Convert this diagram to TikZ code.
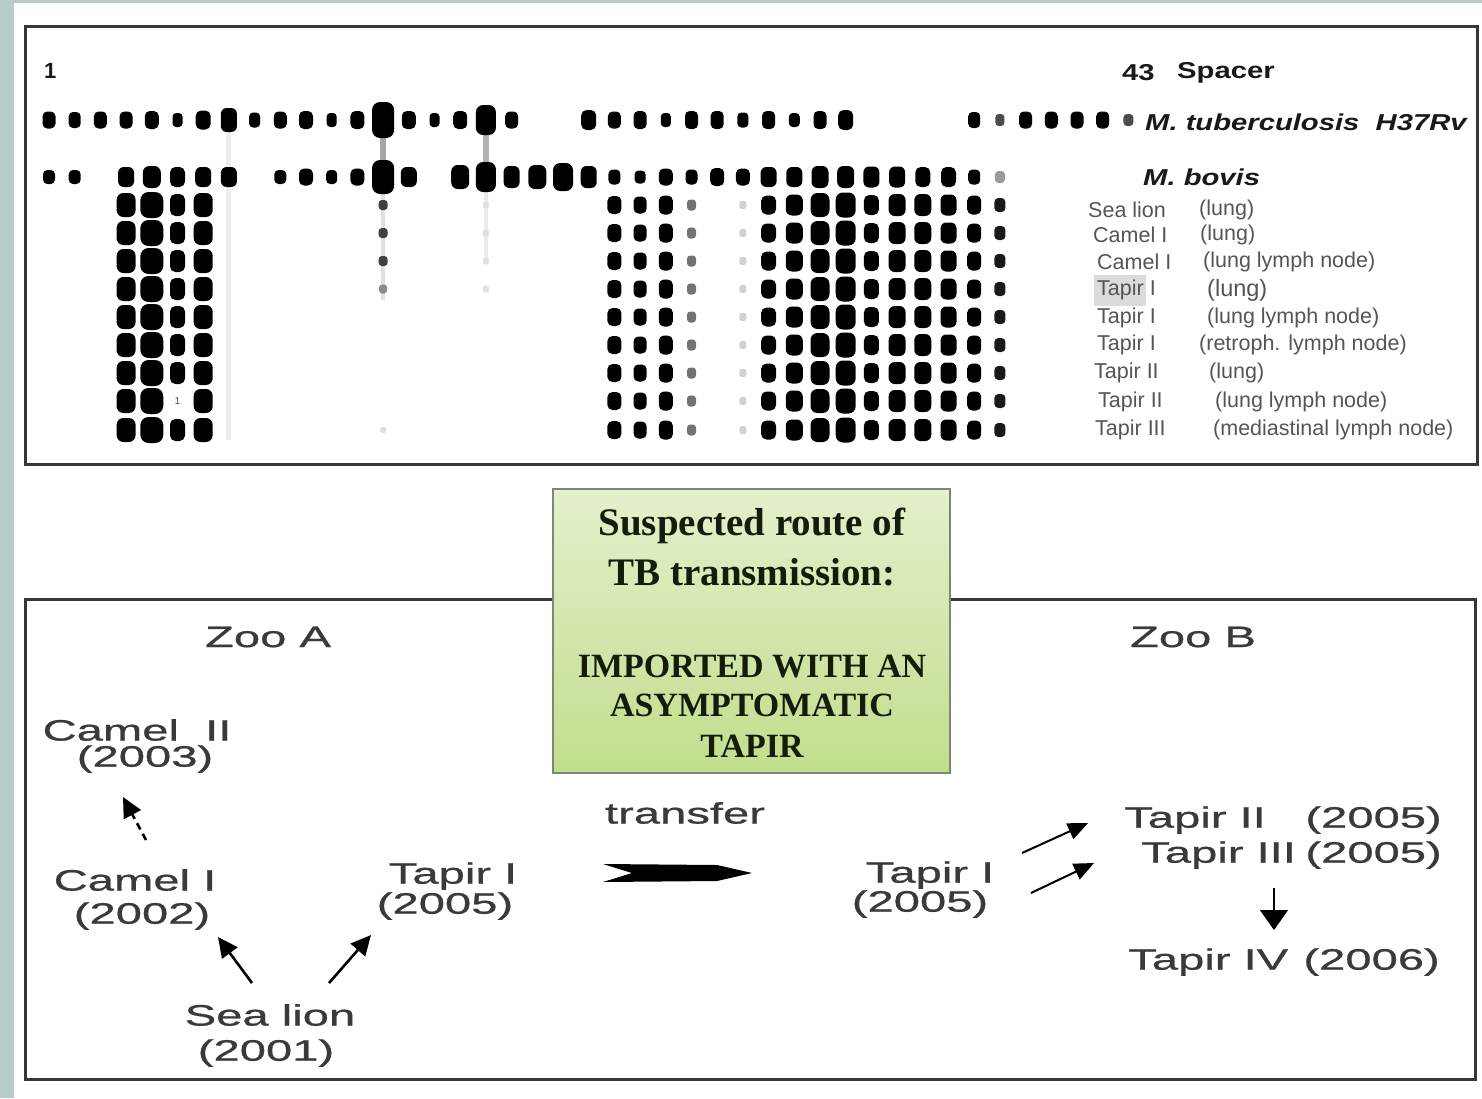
\documentclass[tikz,border=0pt]{standalone}
\usepackage{fontspec}
\setmainfont{Liberation Sans}
\newfontfamily\widefont[FakeStretch=1.6,FakeBold=0.8]{Liberation Sans}
\newfontfamily\hdrfont[FakeStretch=1.27]{Liberation Sans}
\newfontfamily\rmfontx{Liberation Serif}
\usetikzlibrary{arrows.meta,calc}
\definecolor{bgstrip}{RGB}{185,204,204}
\definecolor{framec}{RGB}{55,55,55}
\definecolor{lblc}{RGB}{58,58,58}
\definecolor{smpc}{RGB}{85,85,85}
\definecolor{gtop}{RGB}{228,240,204}
\definecolor{gbot}{RGB}{193,222,140}
\definecolor{gframe}{RGB}{125,135,115}
\definecolor{gtext}{RGB}{20,28,12}
\definecolor{hdrc}{RGB}{25,25,25}
\newcommand{\blot}[5]{%
  \pgfmathsetmacro{\bcx}{49+(#1-1)*25.7}%
  \pgfmathsetmacro{\brr}{0.36*min(#3,#4)}%
  \fill[#5,rounded corners=\brr pt] ({\bcx-#3/2},{#2-#4/2}) rectangle ({\bcx+#3/2},{#2+#4/2});}
\newcommand{\smear}[5]{%
  \pgfmathsetmacro{\bcx}{49+(#1-1)*25.7}%
  \fill[#5] ({\bcx-#4/2},#2) rectangle ({\bcx+#4/2},#3);}
\tikzset{
  lbl/.style={font=\widefont\fontsize{29.5}{33}\selectfont, text=lblc, inner sep=0pt},
  smp/.style={font=\fontsize{21.5}{24}\selectfont, text=smpc, anchor=west, inner sep=0pt},
  hdr/.style={font=\hdrfont\bfseries\fontsize{23}{26}\selectfont, text=hdrc, anchor=west, inner sep=0pt},
  hdri/.style={font=\hdrfont\bfseries\itshape\fontsize{23}{26}\selectfont, text=hdrc, anchor=west, inner sep=0pt},
  frame/.style={draw=framec, line width=3pt},
  gbox/.style={draw=gframe, line width=2pt, top color=gtop, bottom color=gbot, inner sep=0pt},
  gline/.style={font=\rmfontx\bfseries\fontsize{39}{44}\selectfont, text=gtext, inner sep=0pt, anchor=base},
  gcaps/.style={font=\rmfontx\bfseries\fontsize{34}{38}\selectfont, text=gtext, inner sep=0pt, anchor=base},
  arr/.style={-{Triangle[length=20pt,width=19pt]}, line width=2.6pt, draw=black},
  arrs/.style={-{Triangle[length=20pt,width=17pt]}, line width=2pt, draw=black},
  arrd/.style={-{Triangle[length=20pt,width=28pt]}, line width=1.5pt, draw=black},
}
\begin{document}
\begin{tikzpicture}[x=1pt,y=-1pt]
\useasboundingbox (0,0) rectangle (1482,1098);
\fill[white] (0,0) rectangle (1482,1098);
\fill[bgstrip] (0,0) rectangle (14,1098);
\fill[bgstrip] (0,0) rectangle (1482,3);

% ---------- top panel ----------
\draw[frame] (25,26) rectangle (1477,464);

% smears
\smear{8}{130}{440}{5}{black!7}
\smear{14}{132}{168}{6}{black!35}
\smear{14}{188}{300}{4}{black!12}
\smear{18}{132}{168}{6}{black!30}
\smear{18}{188}{260}{4}{black!8}

% H37Rv row
\foreach \s/\w/\h/\c in {1/13/17/black,2/12/16/black,3/13/17/black,4/13/17/black,5/14/18/black,6/10/14/black,7/15/19/black,8/16/24/black,9/11/15/black,10/13/17/black,11/14/18/black,12/10/14/black,13/14/18/black,14/22/36/black,15/14/18/black,16/10/14/black,17/14/18/black,18/20/30/black,19/13/17/black,22/15/20/black,23/13/17/black,24/13/18/black,25/10/14/black,26/13/18/black,27/13/18/black,28/11/15/black,29/13/18/black,30/11/14/black,31/13/18/black,32/15/20/black,37/12/16/black,38/9/12/black!70,39/13/17/black,40/13/17/black,41/13/17/black,42/13/17/black,43/10/12/black!70}
  {\blot{\s}{120}{\w}{\h}{\c}}

% M. bovis reference row
\foreach \s/\w/\h/\c in {1/12/14/black,2/12/14/black,4/16/20/black,5/18/22/black,6/15/20/black,7/16/20/black,8/16/20/black,10/12/14/black,11/14/17/black,12/11/14/black,13/14/17/black,14/22/34/black,15/16/20/black,17/18/24/black,18/20/30/black,19/16/22/black,20/18/24/black,21/20/28/black,22/16/22/black,23/12/15/black,24/11/13/black,25/14/17/black,26/12/15/black,27/14/18/black,28/14/17/black,29/16/20/black,30/16/20/black,31/17/22/black,32/17/22/black,33/16/21/black,34/16/21/black,35/15/20/black,36/15/20/black,37/12/15/black,38/10/12/black!40}
  {\blot{\s}{177}{\w}{\h}{\c}}

% sample rows
\foreach \yy in {205,233,261,289,317,345,373,401,430}{
  \foreach \s/\w/\h/\c in {4/19/24/black,5/23/26/black,7/19/24/black,23/14/18/black,24/13/17/black,25/14/19/black,26/9/11/black!55,28/7/8/black!18,29/15/19/black,30/17/21/black,31/19/24/black,32/20/25/black,33/15/20/black,34/17/22/black,35/17/22/black,36/16/21/black,37/14/19/black,38/11/14/black!90}
    {\blot{\s}{\yy}{\w}{\h}{\c}}
}
\foreach \yy in {205,233,261,289,317,345,373,430}{\blot{6}{\yy}{15}{22}{black}}
\node[font=\fontsize{10}{11}\selectfont, text=black!70, inner sep=0pt] (one) at (177.5,401) {1};
\foreach \yy in {205,233,261}{\blot{14}{\yy}{9}{10}{black!75}}
\blot{14}{289}{8}{9}{black!45}
\blot{14}{430}{6}{6}{black!12}
\foreach \yy in {205,233,261,289}{\blot{18}{\yy}{6}{7}{black!12}}

% headers
\node[font=\bfseries\fontsize{22}{24}\selectfont, text=hdrc, anchor=west, inner sep=0pt] (n1) at (44,71) {1};
\node[hdr] (n43) at (1122,73) {43};
\node[hdr] (spacer) at (1177,73) {Spacer};
\node[hdri] (mtb) at (1145,122) {M. tuberculosis\ \ H37Rv};
\node[hdri] (mbov) at (1143,177) {M. bovis};

% sample labels
\fill[black!14] (1094,275) rectangle (1146,306);
\node[smp] (l1a) at (1088,210) {Sea lion};
\node[smp] (l1b) at (1199,210) {(lung)};
\node[smp] (l2a) at (1093,235) {Camel I};
\node[smp] (l2b) at (1200,235) {(lung)};
\node[smp] (l3a) at (1097,262) {Camel I};
\node[smp] (l3b) at (1203,262) {(lung lymph node)};
\node[smp] (l4a) at (1097,290) {Tapir I};
\node[smp, font=\fontsize{23.5}{26}\selectfont] (l4b) at (1207,290) {(lung)};
\node[smp] (l5a) at (1097,318) {Tapir I};
\node[smp] (l5b) at (1207,318) {(lung lymph node)};
\node[smp] (l6a) at (1097,345) {Tapir I};
\node[smp] (l6b) at (1199,345) {(retroph. lymph node)};
\node[smp] (l7a) at (1094,373) {Tapir II};
\node[smp] (l7b) at (1209,373) {(lung)};
\node[smp] (l8a) at (1098,402) {Tapir II};
\node[smp] (l8b) at (1215,402) {(lung lymph node)};
\node[smp] (l9a) at (1095,430) {Tapir III};
\node[smp] (l9b) at (1213,430) {(mediastinal lymph node)};

% ---------- bottom panel ----------
\draw[frame] (25,599) rectangle (1475,1079);
\node[gbox, minimum width=397pt, minimum height=284pt] (route) at (751.5,631) {};
\node[gline] (r1) at (752,535) {Suspected route of};
\node[gline] (r2) at (752,585) {TB transmission:};
\node[gcaps] (r3) at (752,677) {IMPORTED WITH AN};
\node[gcaps] (r4) at (752,716) {ASYMPTOMATIC};
\node[gcaps] (r5) at (752,757) {TAPIR};

\node[lbl] (zooA) at (268,637) {Zoo A};
\node[lbl] (zooB) at (1193,637) {Zoo B};
\node[lbl] (camel2) at (137,730) {Camel\ \ II};
\node[lbl] (camel2y) at (145,759) {(2003)};
\node[lbl] (camel1) at (135,880) {Camel I};
\node[lbl] (camel1y) at (142,916) {(2002)};
\node[lbl] (tapirA) at (453,876) {Tapir I};
\node[lbl] (tapirAy) at (445,906) {(2005)};
\node[lbl] (sealion) at (270,1015) {Sea lion};
\node[lbl] (sealiony) at (266,1053) {(2001)};
\node[lbl] (transfer) at (685,813) {transfer};
\node[lbl] (tapirB) at (930,875) {Tapir I};
\node[lbl] (tapirBy) at (920,904) {(2005)};
\node[lbl, anchor=west] (tapir2) at (1124,820) {Tapir II};
\node[lbl, anchor=east] (tapir2y) at (1442,820) {(2005)};
\node[lbl, anchor=west] (tapir3) at (1141,855) {Tapir III};
\node[lbl, anchor=east] (tapir3y) at (1442,855) {(2005)};
\node[lbl, anchor=west] (tapir4) at (1128,962) {Tapir IV};
\node[lbl, anchor=east] (tapir4y) at (1440,962) {(2006)};

% arrows
\draw[arr, dash pattern=on 7pt off 5pt] ($(camel1)+(11,-40)$) -- ($(camel2y)+(-22,38)$);
\draw[arr] ($(sealion)+(-18,-32)$) -- ($(camel1y)+(76,21)$);
\draw[arr] ($(sealion)+(59,-32)$) -- ($(tapirAy)+(-74,29)$);
\draw[arrs] ($(tapirB)+(92,-22)$) -- ($(tapir2.west)+(-36,3)$);
\draw[arrs] ($(tapirBy)+(111,-11)$) -- ($(tapir3.west)+(-47,8)$);
\draw[arrd] ($(tapir3.west)+(133,33)$) -- ($(tapir4.west)+(146,-32)$);

% transfer arrow
\fill[black] ($(transfer)+(-82,51)$) -- ($(transfer)+(32,52)$) -- ($(transfer)+(67,60)$) -- ($(transfer)+(32,68)$) -- ($(transfer)+(-82,69)$) -- ($(transfer)+(-53,60)$) -- cycle;
\end{tikzpicture}
\end{document}
